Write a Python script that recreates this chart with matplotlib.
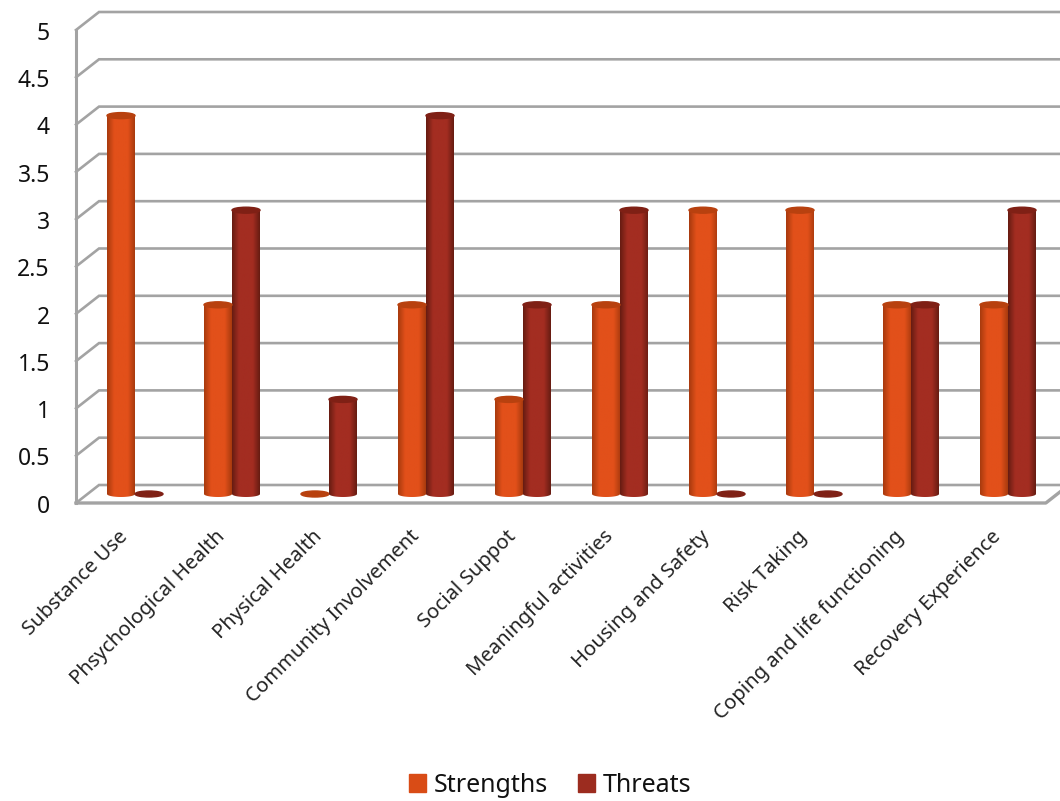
import numpy as np
import matplotlib
matplotlib.use('Agg')
import matplotlib.pyplot as plt
from matplotlib.colors import LinearSegmentedColormap
from matplotlib.patches import Ellipse, PathPatch, Patch
from matplotlib.path import Path

categories = ['Substance Use', 'Phsychological Health', 'Physical Health',
              'Community Involvement', 'Social Suppot', 'Meaningful activities',
              'Housing and Safety', 'Risk Taking', 'Coping and life functioning',
              'Recovery Experience']
strengths = [4, 2, 0, 2, 1, 2, 3, 3, 2, 2]
threats = [0, 3, 1, 4, 2, 3, 0, 0, 2, 3]
y_ticks = [0, 0.5, 1, 1.5, 2, 2.5, 3, 3.5, 4, 4.5, 5]
y_labels = ['0', '0.5', '1', '1.5', '2', '2.5', '3', '3.5', '4', '4.5', '5']

plt.rcParams['font.family'] = ['Noto Sans', 'DejaVu Sans']

W, H = 1060, 801
X_STEP = 97.0    # pixels per category
Y_STEP = 94.6    # pixels per value unit
BAR_W = 28 / X_STEP
ELL_H = 6 / Y_STEP
DEPTH_X = 23 / X_STEP
DEPTH_Y = 9 / Y_STEP
GRID = '#a3a3a3'
LEFT = -0.608
RIGHT = 9.39

fig = plt.figure(figsize=(W / 100, H / 100), dpi=100)
ax = fig.add_axes([0, 0, 1, 1])
ax.axis('off')


def cylinder(ax, xc, value, edge, mid, top):
    if value == 0:
        ax.add_patch(Ellipse((xc, 0), BAR_W, ELL_H, color=top, zorder=3))
        return
    cmap = LinearSegmentedColormap.from_list(
        'c', [(0, edge), (0.25, mid), (0.75, mid), (1, edge)])
    grad = np.linspace(0, 1, 64).reshape(1, -1)
    im = ax.imshow(grad, cmap=cmap, aspect='auto', zorder=3, interpolation='bilinear',
                   extent=(xc - BAR_W / 2, xc + BAR_W / 2, -ELL_H / 2, value))
    t = np.linspace(np.pi, 2 * np.pi, 30)
    px = xc + BAR_W / 2 * np.cos(t)
    py = ELL_H / 2 * np.sin(t)
    verts = np.column_stack([np.r_[px, xc + BAR_W / 2, xc - BAR_W / 2, px[0]],
                             np.r_[py, value, value, py[0]]])
    clip = PathPatch(Path(verts), transform=ax.transData, fc='none', ec='none')
    ax.add_patch(clip)
    im.set_clip_path(clip)
    ax.add_patch(Ellipse((xc, value), BAR_W, ELL_H, color=top, zorder=4))


# walls and gridlines
for v in y_ticks:
    ax.plot([LEFT, LEFT + DEPTH_X, RIGHT + DEPTH_X + 0.2],
            [v - DEPTH_Y, v + DEPTH_Y, v + DEPTH_Y], color=GRID, lw=1.9, zorder=1,
            solid_joinstyle='miter')
ax.plot([LEFT, LEFT], [-DEPTH_Y, 5 - DEPTH_Y], color=GRID, lw=2.2, zorder=2)
ax.plot([LEFT, RIGHT, RIGHT + DEPTH_X], [-DEPTH_Y, -DEPTH_Y, DEPTH_Y], color=GRID, lw=2.4, zorder=2)

for i in range(len(categories)):
    cylinder(ax, i - BAR_W / 2, strengths[i], '#a83a0e', '#e2501a', '#b8410f')
    cylinder(ax, i + BAR_W / 2, threats[i], '#671c12', '#a32d21', '#7f2015')

for v, lab in zip(y_ticks, y_labels):
    ax.text(LEFT - 0.27, v - DEPTH_Y - 0.04, lab, ha='right', va='center', fontsize=16.5, color='#111111')

for i, lab in enumerate(categories):
    ax.text(i - 0.1, -0.42, lab, rotation=45, rotation_mode='anchor', ha='right', va='center',
            fontsize=14.6, color='#222222')

ax.set_xlim(-135 / X_STEP, (W - 135) / X_STEP)
ax.set_ylim((494 - H) / Y_STEP, 494 / Y_STEP)

handles = [Patch(color='#d94c16', label='Strengths'), Patch(color='#9c2c1f', label='Threats')]
fig.legend(handles=handles, loc='center', bbox_to_anchor=(550 / W, 1 - 785 / H), ncol=2,
           frameon=False, fontsize=18, handlelength=0.7, handleheight=0.7,
           handletextpad=0.3, columnspacing=1.2, labelcolor='#111111')

fig.savefig('out.png', dpi=100)
